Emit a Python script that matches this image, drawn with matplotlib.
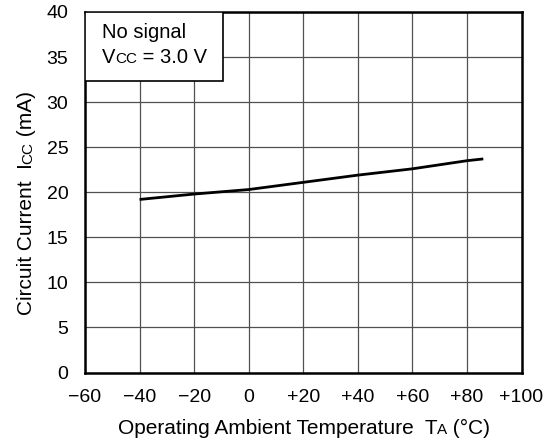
import matplotlib
matplotlib.use("Agg")
import matplotlib.pyplot as plt
from matplotlib.transforms import IdentityTransform

plt.rcParams['font.family'] = ['Liberation Sans', 'DejaVu Sans']

# data
temp = [-40, -20, 0, 20, 40, 60, 80, 86]
icc = [19.2, 19.8, 20.3, 21.1, 21.9, 22.6, 23.5, 23.7]

x_ticks = [-60, -40, -20, 0, 20, 40, 60, 80, 100]
x_labels = ['\u221260', '\u221240', '\u221220', '0', '+20', '+40', '+60', '+80', '+100']
y_ticks = [0, 5, 10, 15, 20, 25, 30, 35, 40]

W, H = 546, 447
fig = plt.figure(figsize=(W / 100, H / 100), dpi=100)
ax = fig.add_axes([85 / W, 1 - 372.5 / H, (521.5 - 85) / W, (372.5 - 12) / H])

ax.plot(temp, icc, color='black', lw=2.0, solid_capstyle='butt', zorder=3)

ax.set_xlim(-60, 100)
ax.set_ylim(0, 40)
ax.set_xticks(x_ticks)
ax.set_xticklabels(x_labels)
ax.set_yticks(y_ticks)
ax.tick_params(length=0, labelsize=14, colors='black')
ax.tick_params(axis='x', pad=12)
ax.tick_params(axis='y', pad=12)
ax.grid(True, color='#505050', lw=0.9)
ax.set_axisbelow(True)
for s in ax.spines.values():
    s.set_linewidth(1.8)
    s.set_color('black')

# condition box in the upper left corner
ax.add_patch(plt.Rectangle((-60, 32.3), 50.5, 7.7, facecolor='white',
                           edgecolor='black', lw=1.2, zorder=4))


def rich_text(x, y, parts, rotation=0, center=False):
    # draw text pieces of different sizes on one baseline (pixel coords)
    r = fig.canvas.get_renderer()
    items = []
    total = 0
    for s, fs in parts:
        t = fig.text(0, 0, s, fontsize=fs, ha='left', va='baseline',
                     rotation=rotation, rotation_mode='anchor',
                     transform=IdentityTransform(), zorder=5)
        bb = t.get_window_extent(r)
        w = bb.width if rotation == 0 else bb.height
        items.append((t, w))
        total += w
    pos = -total / 2 if center else 0
    for t, w in items:
        if rotation == 0:
            t.set_position((x + pos, y))
        else:
            t.set_position((x, y + pos))
        pos += w


rich_text(102, H - 38, [('No signal', 14.5)])
rich_text(102, H - 63, [('V', 14.5), ('CC', 11), (' = 3.0 V', 14.5)])
rich_text(304, H - 434, [('Operating Ambient Temperature  T', 15), ('A', 11), (' (\u00b0C)', 15)], center=True)
rich_text(32, H - 203, [('Circuit Current  I', 15), ('CC', 11), (' (mA)', 15)], rotation=90, center=True)

fig.savefig('out.png', dpi=100)
